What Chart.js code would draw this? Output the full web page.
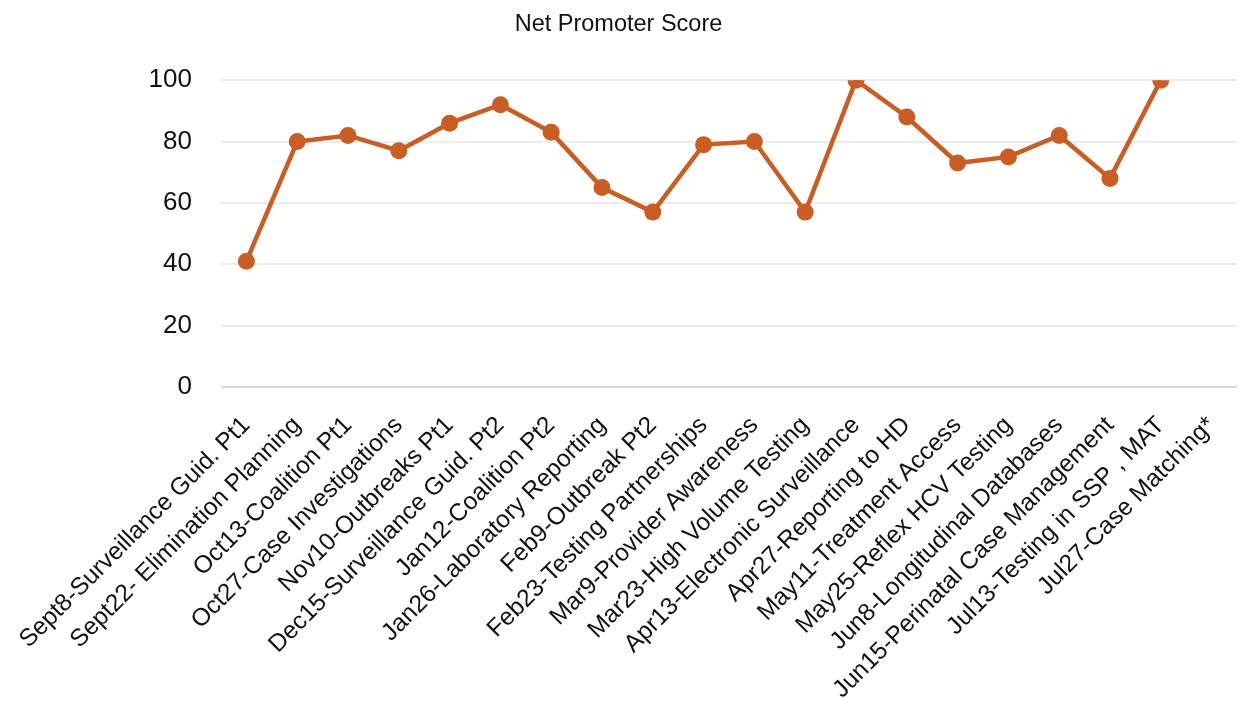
<!DOCTYPE html>
<html>
<head>
<meta charset="utf-8">
<script src="https://cdn.jsdelivr.net/npm/chart.js@4/dist/chart.umd.min.js"></script>
<style>
  body { margin: 0; background: #fff; }
  #wrap { width: 1256px; height: 701px; }
</style>
</head>
<body>
<div id="wrap"><canvas id="npsChart"></canvas></div>
<script>
// sessions (x axis)
const sessions = [
    'Sept8-Surveillance Guid. Pt1',
    'Sept22- Elimination Planning',
    'Oct13-Coalition Pt1',
    'Oct27-Case Investigations',
    'Nov10-Outbreaks Pt1',
    'Dec15-Surveillance Guid. Pt2',
    'Jan12-Coalition Pt2',
    'Jan26-Laboratory Reporting',
    'Feb9-Outbreak Pt2',
    'Feb23-Testing Partnerships',
    'Mar9-Provider Awareness',
    'Mar23-High Volume Testing',
    'Apr13-Electronic Surveillance',
    'Apr27-Reporting to HD',
    'May11-Treatment Access',
    'May25-Reflex HCV Testing',
    'Jun8-Longitudinal Databases',
    'Jun15-Perinatal Case Management',
    'Jul13-Testing in SSP , MAT',
    'Jul27-Case Matching*'
];
// net promoter score per session (last one has no value)
const npsScores = [41, 80, 82, 77, 86, 92, 83, 65, 57, 79, 80, 57, 100, 88, 73, 75, 82, 68, 100, null];
const yTicks = [0, 20, 40, 60, 80, 100];

const lineColor = '#c95e24';
const fontFamily = "'Liberation Sans', Arial, sans-serif";

document.addEventListener('DOMContentLoaded', function () {
    const ctx = document.getElementById('npsChart').getContext('2d');

    const npsChart = new Chart(ctx, {
        type: 'line',
        data: {
            labels: sessions,
            datasets: [{
                label: 'Net Promoter Score',
                data: npsScores,
                borderColor: lineColor,
                backgroundColor: lineColor,
                borderWidth: 4.5,
                pointRadius: 8.5,
                pointHoverRadius: 8.5,
                pointBorderWidth: 0,
                pointBackgroundColor: lineColor,
                tension: 0,
                fill: false
            }]
        },
        options: {
            responsive: true,
            maintainAspectRatio: false,
            animation: false,
            layout: {
                padding: { left: 0, right: 19, top: 0, bottom: 0 }
            },
            plugins: {
                legend: { display: false },
                tooltip: { enabled: false },
                title: {
                    display: true,
                    text: 'Net Promoter Score',
                    color: '#111',
                    font: { family: fontFamily, size: 23.5, weight: 'normal' },
                    padding: { top: 10, bottom: 42 }
                }
            },
            scales: {
                x: {
                    offset: true,
                    grid: { display: false },
                    border: { display: false },
                    ticks: {
                        color: '#111',
                        font: { family: fontFamily, size: 24.5 },
                        autoSkip: false,
                        minRotation: 45,
                        maxRotation: 45,
                        padding: 16
                    },
                    afterFit: function (scale) {
                        scale.height = 314;
                    }
                },
                y: {
                    min: 0,
                    max: 100,
                    border: { display: false },
                    grid: {
                        drawTicks: false,
                        lineWidth: 2,
                        color: function (c) {
                            return c.tick && c.tick.value === 0 ? '#d9d9d9' : '#ececec';
                        }
                    },
                    afterBuildTicks: function (scale) {
                        scale.ticks = yTicks.map(v => ({ value: v }));
                    },
                    ticks: {
                        color: '#111',
                        font: { family: fontFamily, size: 26 },
                        padding: 29
                    },
                    afterFit: function (scale) {
                        scale.width = 221;
                    }
                }
            }
        }
    });
});
</script>
</body>
</html>
